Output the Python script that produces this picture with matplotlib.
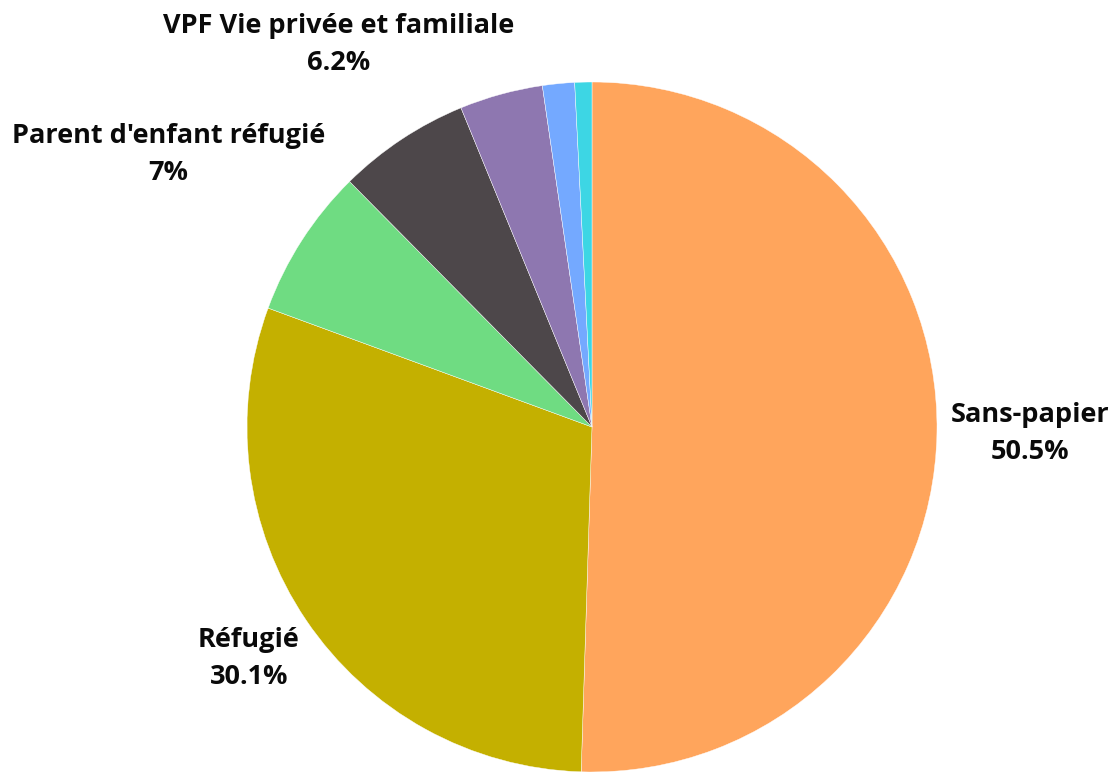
import numpy as np
import matplotlib.pyplot as plt

categories = ["Sans-papier", "Réfugié", "Parent d'enfant réfugié",
              "VPF Vie privée et familiale", "Autre 1", "Autre 2", "Autre 3"]
values = [50.5, 30.1, 7.0, 6.2, 3.9, 1.5, 0.8]
pct_labels = ["50.5%", "30.1%", "7%", "6.2%", None, None, None]
colors = ["#FFA55C", "#C4B000", "#6FDC82", "#4D474A", "#8E77B0", "#74A9FF", "#3DD6E4"]
# distance of each label from the centre, in pie radii
label_dist = [1.27, 1.20, 1.46, 1.33, None, None, None]

W, H = 1115, 772
fig = plt.figure(figsize=(W / 100, H / 100), dpi=100)
ax = fig.add_axes([0, 0, 1, 1])
ax.set_xlim(0, W)
ax.set_ylim(0, H)
ax.set_aspect("equal")
ax.axis("off")

cx, cy, r = 592, H - 427, 345
wedges, _ = ax.pie(values, colors=colors, startangle=90, counterclock=False,
                   center=(cx, cy), radius=r,
                   wedgeprops=dict(edgecolor="white", linewidth=0.3))
ax.set_xlim(0, W)
ax.set_ylim(0, H)

for w, name, pct, d in zip(wedges, categories, pct_labels, label_dist):
    if pct is None:
        continue
    ang = np.deg2rad((w.theta1 + w.theta2) / 2)
    x = cx + d * r * np.cos(ang)
    y = cy + d * r * np.sin(ang)
    ax.text(x, y, f"{name}\n{pct}", ha="center", va="center",
            fontsize=19.5, fontweight="bold", family=["Open Sans", "DejaVu Sans"],
            linespacing=1.55, color="#0a0a0a")

fig.savefig("out.png", dpi=100)
